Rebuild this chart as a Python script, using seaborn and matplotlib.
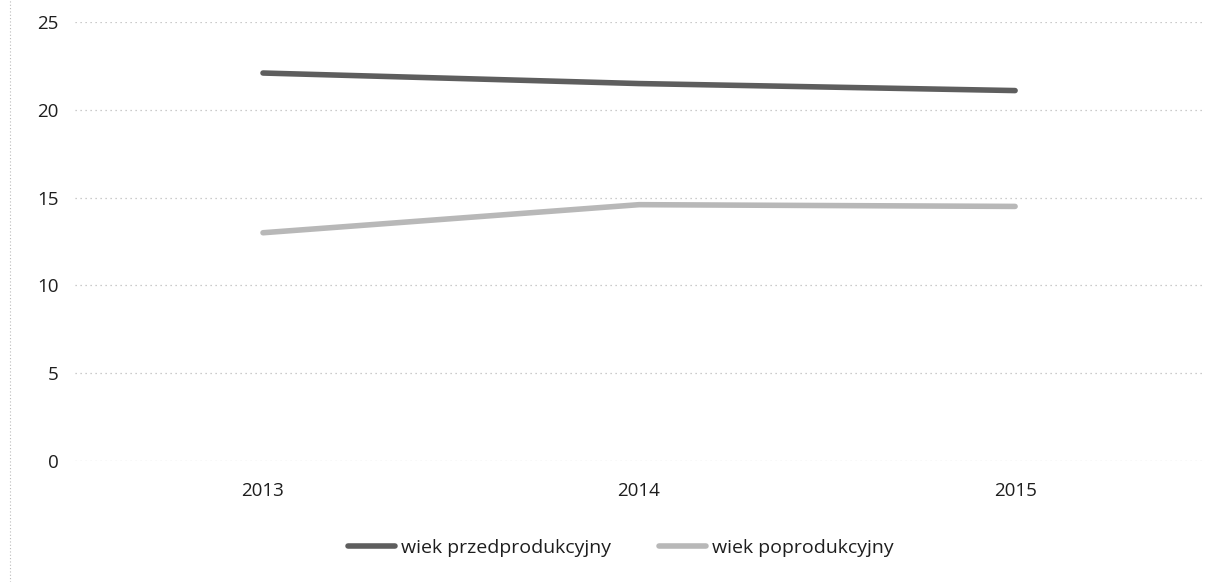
import numpy as np
import pandas as pd
import matplotlib
matplotlib.use("Agg")
import matplotlib.pyplot as plt
import seaborn as sns

years = ["2013", "2014", "2015"]
przed = [22.1, 21.5, 21.1]
popro = [13.0, 14.6, 14.5]
series_names = ["wiek przedprodukcyjny", "wiek poprodukcyjny"]
yticks = [0, 5, 10, 15, 20, 25]
colors = ["#5e5e5e", "#b8b8b8"]

sns.set_theme(style="white")
plt.rcParams["font.family"] = ["Open Sans", "DejaVu Sans"]

df = pd.DataFrame({
    "pos": list(range(len(years))) * 2,
    "value": przed + popro,
    "series": [series_names[0]] * len(years) + [series_names[1]] * len(years),
})

fig = plt.figure(figsize=(12.17, 5.82), dpi=100)
ax = fig.add_axes([0.0616, 0.208, 0.927, 0.754])

sns.lineplot(data=df, x="pos", y="value", hue="series", hue_order=series_names,
             palette=colors, linewidth=4, ax=ax, legend=False)

ax.set_xlim(-0.5, len(years) - 0.5)
ax.set_ylim(0, 25)
ax.set_yticks(yticks)
ax.set_xticks(range(len(years)))
ax.set_xticklabels(years)
ax.tick_params(axis="both", labelsize=13.5, colors="#1e1e1e", length=0)
ax.tick_params(axis="y", pad=12)
ax.tick_params(axis="x", pad=15)
ax.grid(axis="y", color="#bbbbbb", linestyle=(0, (1, 3)), linewidth=0.9)
for s in ax.spines.values():
    s.set_visible(False)
ax.set_xlabel("")
ax.set_ylabel("")

handles = [plt.Line2D([], [], color=c, linewidth=4) for c in colors]
fig.legend(handles, series_names, loc="center", bbox_to_anchor=(0.51, 0.058), ncol=2,
           frameon=False, fontsize=14, handlelength=2.4, handletextpad=0.3,
           columnspacing=2.5, labelcolor="#1e1e1e")

# dotted chart border on the left edge
fig.add_artist(plt.Line2D([0.008, 0.008], [0.0, 1.0], color="#bbbbbb",
                          linestyle=(0, (1, 2)), linewidth=0.8, transform=fig.transFigure))

fig.savefig("out.png", dpi=100)
